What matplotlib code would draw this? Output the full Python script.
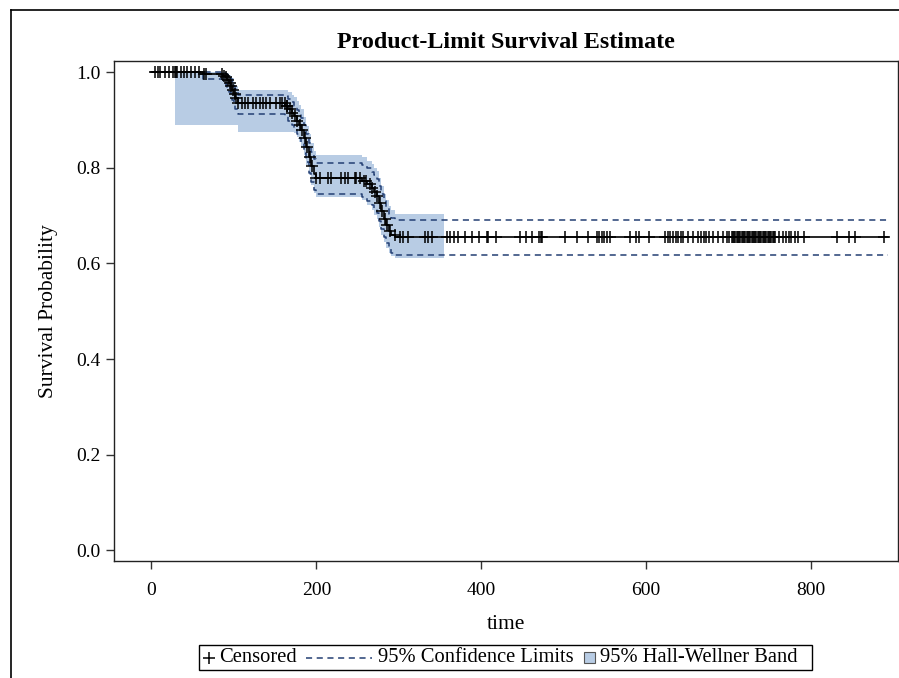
import numpy as np
import matplotlib
matplotlib.use("Agg")
import matplotlib.pyplot as plt
from matplotlib.lines import Line2D
from matplotlib.patches import Rectangle

plt.rcParams['font.family'] = ['Liberation Serif', 'DejaVu Serif']

# Kaplan-Meier step points (time, survival)
step_time = [0, 62, 87, 90, 92, 94, 96, 98, 100, 102, 105, 162, 166, 170, 173,
             176, 179, 182, 185, 188, 191, 194, 197, 200, 255, 262, 267, 270,
             273, 276, 279, 282, 285, 288, 291, 296]
surv = [1.0, 0.996, 0.993, 0.989, 0.984, 0.978, 0.971, 0.963, 0.955, 0.946,
        0.935, 0.930, 0.922, 0.915, 0.908, 0.898, 0.890, 0.879, 0.862, 0.843,
        0.822, 0.803, 0.787, 0.779, 0.773, 0.766, 0.758, 0.750, 0.742, 0.726,
        0.710, 0.694, 0.680, 0.668, 0.660, 0.655]

# pointwise 95% confidence limits at the same steps
ci_lower = [1.0, 0.986, 0.979, 0.973, 0.966, 0.958, 0.950, 0.941, 0.932, 0.922,
            0.913, 0.908, 0.898, 0.890, 0.882, 0.871, 0.862, 0.850, 0.832, 0.812,
            0.790, 0.770, 0.753, 0.745, 0.739, 0.731, 0.722, 0.714, 0.705, 0.688,
            0.672, 0.656, 0.642, 0.630, 0.622, 0.618]
ci_upper = [1.0, 0.9995, 0.999, 0.997, 0.994, 0.990, 0.985, 0.979, 0.972, 0.964,
            0.953, 0.950, 0.943, 0.937, 0.930, 0.921, 0.914, 0.904, 0.889, 0.870,
            0.851, 0.833, 0.818, 0.811, 0.806, 0.799, 0.792, 0.784, 0.777, 0.761,
            0.746, 0.730, 0.716, 0.704, 0.696, 0.691]

# Hall-Wellner band (starts at t=29, ends at t=355)
band_time = [29, 62, 87, 90, 92, 94, 96, 98, 100, 102, 105, 162, 166, 170, 173,
             176, 179, 182, 185, 188, 191, 194, 197, 200, 255, 262, 267, 270,
             273, 276, 279, 282, 285, 288, 291, 296, 355]
band_lower = [0.889, 0.889, 0.889, 0.889, 0.889, 0.889, 0.889, 0.889, 0.889,
              0.889, 0.875, 0.875, 0.875, 0.875, 0.872, 0.865, 0.855, 0.843,
              0.826, 0.806, 0.785, 0.765, 0.748, 0.738, 0.732, 0.722, 0.712,
              0.702, 0.692, 0.676, 0.660, 0.645, 0.632, 0.622, 0.615, 0.611, 0.611]
band_upper = [1.0, 1.0, 1.0, 0.999, 0.998, 0.995, 0.992, 0.987, 0.980, 0.972,
              0.963, 0.962, 0.958, 0.953, 0.948, 0.940, 0.932, 0.922, 0.906,
              0.888, 0.870, 0.852, 0.836, 0.827, 0.822, 0.815, 0.808, 0.800,
              0.793, 0.778, 0.762, 0.746, 0.732, 0.720, 0.712, 0.703, 0.703]

end_time = 893

# censored observation times
censor_time = [5, 8, 10.5, 17, 21, 26.7, 28.4, 30, 31.6, 36.4, 39.7, 42.9, 47.8,
               52.6, 57.5, 63.9, 66.7, 86, 88, 91, 93, 95, 97, 99, 101, 103,
               105.2, 110, 114, 117.3, 123.4, 127.4, 131.5, 135.5, 139.5, 143.6,
               151.6, 155.7, 158.6, 161.8, 164, 165, 168, 171, 174, 177, 180,
               183, 186, 189, 192, 195, 200.2, 204.3, 214.4, 218.4, 230.5, 234.6,
               238.6, 246.8, 248.7, 252.8, 258, 260.8, 265, 268, 271, 274, 277,
               280, 283, 286, 289, 295.3, 301.3, 305.4, 311.4, 331.7, 335.7,
               339.7, 358.4, 362.7, 366.9, 371.2, 379.7, 389.0, 396.7, 406.9,
               408.2, 418.0, 446.4, 453.7, 461.3, 469.8, 472.0, 474.1, 501.7,
               516.6, 529.4, 540.0, 543.0, 546.4, 549.4, 552.8, 555.7, 580.4,
               588.1, 591.0, 603.8, 623.0, 626.3, 629.3, 632.3, 635.7, 639.1,
               642.1, 645.1, 650.6, 657.0, 663.3, 666.3, 669.7, 673.1, 676.1,
               680.4, 686.7, 693.1, 697.4, 700.3, 703.7, 705.2, 706.7, 708.2,
               709.7, 711.2, 712.7, 714.2, 715.7, 717.2, 718.7, 720.2, 721.7,
               723.2, 724.7, 726.2, 727.7, 729.2, 730.7, 732.2, 733.7, 735.2,
               736.7, 738.2, 739.7, 741.2, 742.7, 744.2, 745.7, 747.2, 748.7,
               750.2, 751.7, 753.2, 754.7, 756.2, 761.1, 765.4, 769.7, 772.6,
               776.0, 780.3, 784.6, 790.9, 831.4, 846.2, 852.6, 888]

band_color = '#b8cce4'
ci_color = '#233f73'
dash = (0, (4, 3))

W, H = 899, 678
fig = plt.figure(figsize=(W / 100, H / 100), dpi=100)
ax = fig.add_axes([0.1271, 0.1726, 0.8715, 0.7379])

t_full = step_time + [end_time]
s_full = surv + [surv[-1]]
lo_full = ci_lower + [ci_lower[-1]]
hi_full = ci_upper + [ci_upper[-1]]

ax.fill_between(band_time, band_lower, band_upper, step='post',
                color=band_color, lw=0, zorder=1)
ax.step(t_full, lo_full, where='post', color=ci_color, ls=dash, lw=1.1, zorder=2)
ax.step(t_full, hi_full, where='post', color=ci_color, ls=dash, lw=1.1, zorder=2)
ax.step(t_full, s_full, where='post', color='black', lw=1.2, zorder=3)

idx = np.searchsorted(step_time, censor_time, side='right') - 1
censor_surv = np.array(surv)[idx]
ax.plot(censor_time, censor_surv, ls='none', marker='+', ms=8, mew=1.1,
        color='black', zorder=4)

ax.set_xlim(-45, 905)
ax.set_ylim(-0.022, 1.024)
ax.set_xticks([0, 200, 400, 600, 800])
ax.set_yticks([0.0, 0.2, 0.4, 0.6, 0.8, 1.0])
ax.set_yticklabels(['0.0', '0.2', '0.4', '0.6', '0.8', '1.0'])
ax.tick_params(direction='out', length=6, width=1, labelsize=14, colors='#333333',
               labelcolor='black')
ax.tick_params(axis='x', pad=9)
ax.tick_params(axis='y', pad=4)
for sp in ax.spines.values():
    sp.set_color('#222222')
    sp.set_linewidth(1)

ax.set_xlabel('time', fontsize=15.5, labelpad=12)
ax.set_ylabel('Survival Probability', fontsize=15.5, labelpad=13)
ax.set_title('Product-Limit Survival Estimate', fontsize=17.3, fontweight='bold', pad=9)

# legend along the bottom, laid out by hand in pixel positions
def fx(px):
    return px / W

def fy(py):
    return 1 - py / H

leg_y = 657.5
leg_fs = 14.8
fig.add_artist(Rectangle((fx(199), fy(670)), fx(812) - fx(199), fy(645) - fy(670),
                         transform=fig.transFigure, fill=False, ec='black', lw=1))
fig.add_artist(Line2D([fx(209)], [fy(leg_y)], transform=fig.transFigure, ls='none',
                      marker='+', ms=8, mew=1.1, color='black'))
fig.text(fx(219), fy(leg_y), 'Censored', fontsize=leg_fs, va='center', ha='left')
fig.add_artist(Line2D([fx(306), fx(372)], [fy(leg_y), fy(leg_y)],
                      transform=fig.transFigure, color=ci_color, ls=dash, lw=1.1))
fig.text(fx(378), fy(leg_y), '95% Confidence Limits', fontsize=leg_fs, va='center', ha='left')
fig.add_artist(Rectangle((fx(584), fy(663)), fx(595) - fx(584), fy(652) - fy(663),
                         transform=fig.transFigure, fc=band_color, ec='#555555', lw=0.8))
fig.text(fx(600), fy(leg_y), '95% Hall-Wellner Band', fontsize=leg_fs, va='center', ha='left')

# outer frame lines (top and left)
fig.add_artist(Line2D([fx(11), 1], [fy(10), fy(10)],
                      transform=fig.transFigure, color='black', lw=1.2))
fig.add_artist(Line2D([fx(11), fx(11)], [0, fy(10)],
                      transform=fig.transFigure, color='black', lw=1.2))

fig.savefig('out.png', dpi=100)
